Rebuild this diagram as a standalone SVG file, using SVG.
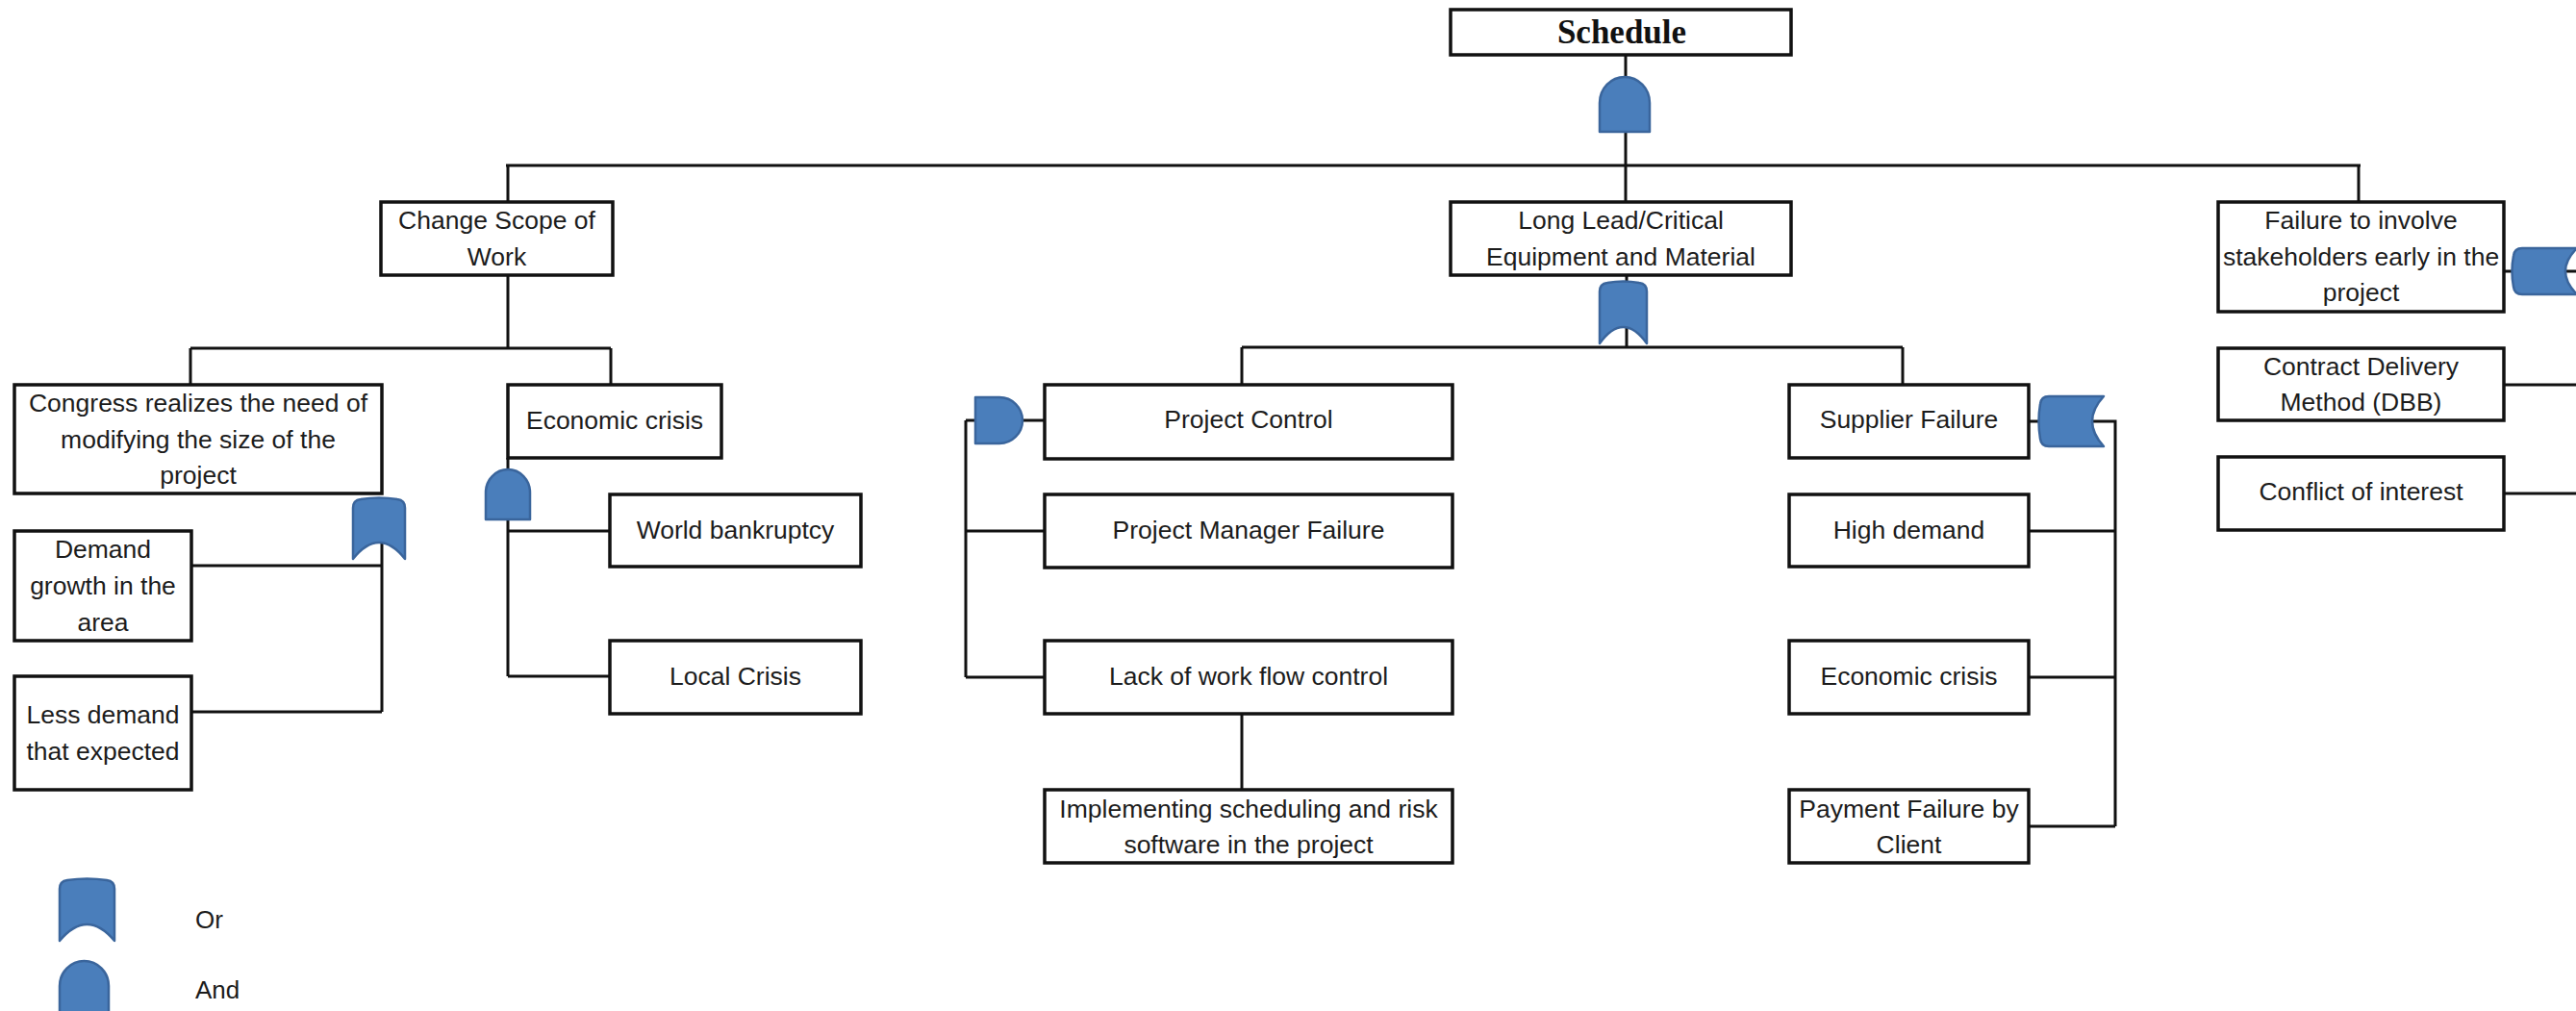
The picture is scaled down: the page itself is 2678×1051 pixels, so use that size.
<svg xmlns="http://www.w3.org/2000/svg" width="2678" height="1051" viewBox="0 0 2678 1051">
<style>
.box{fill:#fff;stroke:#111;stroke-width:3.5}
.t{font-family:"Liberation Sans",Arial,sans-serif;font-size:26.5px;fill:#1c1c1c;text-anchor:middle}
.tl{font-family:"Liberation Sans",Arial,sans-serif;font-size:26px;fill:#1c1c1c}
.title{font-family:"Liberation Serif","Times New Roman",serif;font-size:35px;font-weight:bold;fill:#111;text-anchor:middle}
.ln{fill:none;stroke:#111;stroke-width:3}
.gate{fill:#4A7EBB;stroke:#3A659C;stroke-width:2.5;stroke-linejoin:round}
</style>
<rect width="2678" height="1051" fill="#fff"/>
<g id="connectors">
<path class="ln" d="M1690,57 V210"/>
<path class="ln" d="M526,172 H2454 M528,172 V210 M2452,172 V210"/>
<path class="ln" d="M528,286 V362 M198,362 H635 M198,362 V400 M635,362 V400"/>
<path class="ln" d="M397,540 V740 M199,588 H397 M199,740 H397"/>
<path class="ln" d="M528,476 V703 M528,552 H634 M528,703 H634"/>
<path class="ln" d="M1691,286 V361 M1291,361 H1978 M1291,361 V400 M1978,361 V400"/>
<path class="ln" d="M1004,437 H1086 M1004,437 V704 M1004,552 H1086 M1004,704 H1086"/>
<path class="ln" d="M1291,742 V821"/>
<path class="ln" d="M2109,438 H2199 V859 M2109,552 H2199 M2109,704 H2199 M2109,859 H2199"/>
<path class="ln" d="M2603,282 H2678 M2603,400 H2678 M2603,513 H2678"/>
</g>
<g id="gates">
<path class="gate" d="M1663,137 L1663,107 A26,27 0 0 1 1715,107 L1715,137 Z"/>
<path class="gate" d="M1663,357 L1663,303 Q1663,295 1671,294 Q1687.5,291 1704,294 Q1712,295 1712,303 L1712,357 Q1687.5,323 1663,357 Z"/>
<path class="gate" d="M367,581 L367,528 Q367,520 375,519 Q394,516 413,519 Q421,520 421,528 L421,581 Q394,547 367,581 Z"/>
<path class="gate" d="M505,540 L505,512 A23,24 0 0 1 551,512 L551,540 Z"/>
<path class="gate" d="M1014,413 L1039,413 A24,24 0 0 1 1039,461 L1014,461 Z"/>
<path class="gate" d="M2187,412 L2130,412 Q2122,412 2121,420 Q2118,438 2121,456 Q2122,464 2130,464 L2187,464 Q2163,438 2187,412 Z"/>
<path class="gate" d="M2679,258 L2622,258 Q2614,258 2613,266 Q2610,282 2613,298 Q2614,306 2622,306 L2679,306 Q2655,282 2679,258 Z"/>
</g>
<g id="n-schedule"><rect class="box" x="1508" y="10" width="354" height="47"/><text class="title" x="1686" y="45">Schedule</text></g>
<g id="n-change-scope"><rect class="box" x="396" y="210" width="241" height="76"/><text class="t" x="516.5" y="238">Change Scope of</text><text class="t" x="516.5" y="276">Work</text></g>
<g id="n-long-lead"><rect class="box" x="1508" y="210" width="354" height="76"/><text class="t" x="1685" y="238">Long Lead/Critical</text><text class="t" x="1685" y="276">Equipment and Material</text></g>
<g id="n-failure-involve"><rect class="box" x="2306" y="210" width="297" height="114"/><text class="t" x="2454.5" y="238">Failure to involve</text><text class="t" x="2454.5" y="276">stakeholders early in the</text><text class="t" x="2454.5" y="313">project</text></g>
<g id="n-congress"><rect class="box" x="15" y="400" width="382" height="113"/><text class="t" x="206" y="428">Congress realizes the need of</text><text class="t" x="206" y="466">modifying the size of the</text><text class="t" x="206" y="503">project</text></g>
<g id="n-econ-1"><rect class="box" x="528" y="400" width="222" height="76"/><text class="t" x="639" y="446">Economic crisis</text></g>
<g id="n-world"><rect class="box" x="634" y="514" width="261" height="75"/><text class="t" x="764.5" y="560">World bankruptcy</text></g>
<g id="n-local"><rect class="box" x="634" y="666" width="261" height="76"/><text class="t" x="764.5" y="712">Local Crisis</text></g>
<g id="n-demand"><rect class="box" x="15" y="552" width="184" height="114"/><text class="t" x="107" y="580">Demand</text><text class="t" x="107" y="618">growth in the</text><text class="t" x="107" y="656">area</text></g>
<g id="n-less"><rect class="box" x="15" y="703" width="184" height="118"/><text class="t" x="107" y="752">Less demand</text><text class="t" x="107" y="790">that expected</text></g>
<g id="n-project-control"><rect class="box" x="1086" y="400" width="424" height="77"/><text class="t" x="1298" y="445">Project Control</text></g>
<g id="n-pm-failure"><rect class="box" x="1086" y="514" width="424" height="76"/><text class="t" x="1298" y="560">Project Manager Failure</text></g>
<g id="n-lack"><rect class="box" x="1086" y="666" width="424" height="76"/><text class="t" x="1298" y="712">Lack of work flow control</text></g>
<g id="n-implementing"><rect class="box" x="1086" y="821" width="424" height="76"/><text class="t" x="1298" y="850">Implementing scheduling and risk</text><text class="t" x="1298" y="887">software in the project</text></g>
<g id="n-supplier"><rect class="box" x="1860" y="400" width="249" height="76"/><text class="t" x="1984.5" y="445">Supplier Failure</text></g>
<g id="n-high"><rect class="box" x="1860" y="514" width="249" height="75"/><text class="t" x="1984.5" y="560">High demand</text></g>
<g id="n-econ-2"><rect class="box" x="1860" y="666" width="249" height="76"/><text class="t" x="1984.5" y="712">Economic crisis</text></g>
<g id="n-payment"><rect class="box" x="1860" y="821" width="249" height="76"/><text class="t" x="1984.5" y="850">Payment Failure by</text><text class="t" x="1984.5" y="887">Client</text></g>
<g id="n-contract"><rect class="box" x="2306" y="362" width="297" height="75"/><text class="t" x="2454.5" y="390">Contract Delivery</text><text class="t" x="2454.5" y="427">Method (DBB)</text></g>
<g id="n-conflict"><rect class="box" x="2306" y="475" width="297" height="76"/><text class="t" x="2454.5" y="520">Conflict of interest</text></g>
<g id="legend">
<path class="gate" d="M62,978 L62,924 Q62,916 70,915 Q90.5,912 111,915 Q119,916 119,924 L119,978 Q90.5,944 62,978 Z"/>
<text class="tl" x="203" y="965">Or</text>
<path class="gate" d="M62,1056 L62,1025 A25.5,26 0 0 1 113,1025 L113,1056 Z"/>
<text class="tl" x="203" y="1038">And</text>
</g>
</svg>
